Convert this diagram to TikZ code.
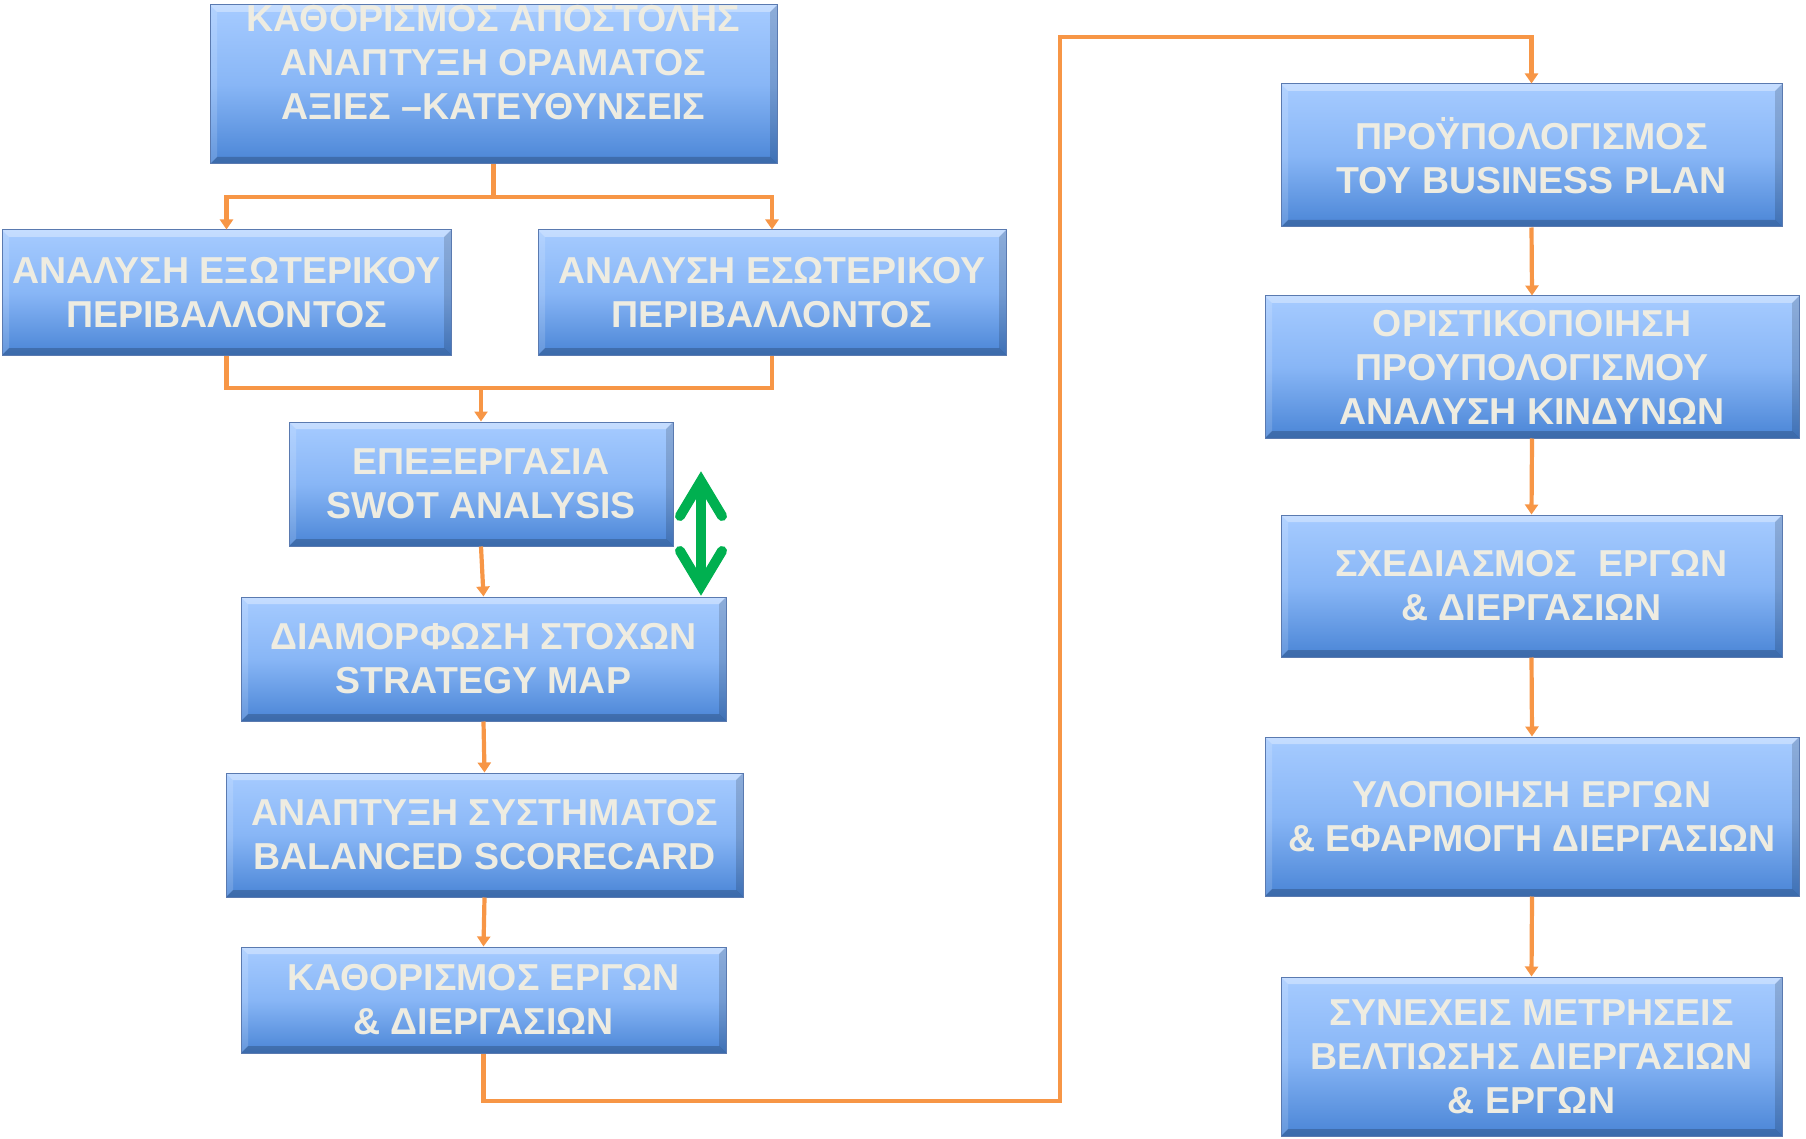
\documentclass[tikz,border=0pt]{standalone}
\usepackage{fontspec}
\setmainfont{Liberation Sans}
\usetikzlibrary{arrows.meta}
\definecolor{flowline}{HTML}{F79646}
\definecolor{boxtext}{HTML}{EEECE1}
\definecolor{boxtop}{RGB}{166,203,255}
\definecolor{boxmid}{RGB}{136,182,246}
\definecolor{boxbot}{RGB}{74,133,214}
\definecolor{boxrim}{RGB}{90,122,176}
\definecolor{linkgreen}{HTML}{00B050}
\tikzset{
  stage/.style={
    draw=boxrim, line width=1pt, inner sep=0pt, align=center,
    top color=boxtop, bottom color=boxbot, middle color=boxmid,
    text=boxtext, font=\fontsize{37.5}{44}\selectfont\bfseries,
    path picture={
      \def\pb{path picture bounding box}
      \fill[white,opacity=.35] (\pb.north west) -- (\pb.north east)
        -- ([xshift=-7pt,yshift=-7pt]\pb.north east) -- ([xshift=7pt,yshift=-7pt]\pb.north west) -- cycle;
      \fill[white,opacity=.15] (\pb.north west) -- ([xshift=7pt,yshift=-7pt]\pb.north west)
        -- ([xshift=7pt,yshift=7pt]\pb.south west) -- (\pb.south west) -- cycle;
      \fill[black,opacity=.15] (\pb.north east) -- ([xshift=-7pt,yshift=-7pt]\pb.north east)
        -- ([xshift=-7pt,yshift=7pt]\pb.south east) -- (\pb.south east) -- cycle;
      \fill[black,opacity=.2] (\pb.south west) -- ([xshift=7pt,yshift=7pt]\pb.south west)
        -- ([xshift=-7pt,yshift=7pt]\pb.south east) -- (\pb.south east) -- cycle;
    }},
  flow/.style={draw=flowline, line width=4.2pt},
  flowarrow/.style={flow, -{Triangle[width=13pt,length=10pt]}},
  twoway/.style={draw=linkgreen, line width=10pt, line join=miter, line cap=round}
}
\begin{document}
\begin{tikzpicture}[x=1pt,y=-1pt]
\useasboundingbox (0,0) rectangle (1806,1139);

% left column
\node[stage, minimum width=567pt, minimum height=159pt] (b1) at (493.5,84.5)
  {ΚΑΘΟΡΙΣΜΟΣ ΑΠΟΣΤΟΛΗΣ\\ΑΝΑΠΤΥΞΗ ΟΡΑΜΑΤΟΣ\\ΑΞΙΕΣ –ΚΑΤΕΥΘΥΝΣΕΙΣ\\\mbox{}};
\node[stage, minimum width=449pt, minimum height=125pt] (b2) at (226.5,292.5)
  {ΑΝΑΛΥΣΗ ΕΞΩΤΕΡΙΚΟΥ\\ΠΕΡΙΒΑΛΛΟΝΤΟΣ};
\node[stage, minimum width=468pt, minimum height=125pt] (b3) at (772,292.5)
  {ΑΝΑΛΥΣΗ ΕΣΩΤΕΡΙΚΟΥ\\ΠΕΡΙΒΑΛΛΟΝΤΟΣ};
\node[stage, minimum width=384pt, minimum height=124pt] (b4) at (481,484)
  {ΕΠΕΞΕΡΓΑΣΙΑ\\SWOT ANALYSIS};
\node[stage, minimum width=485pt, minimum height=124pt] (b5) at (483.5,659)
  {ΔΙΑΜΟΡΦΩΣΗ ΣΤΟΧΩΝ\\STRATEGY MAP};
\node[stage, minimum width=517pt, minimum height=124pt] (b6) at (484.5,835)
  {ΑΝΑΠΤΥΞΗ ΣΥΣΤΗΜΑΤΟΣ\\BALANCED SCORECARD};
\node[stage, minimum width=485pt, minimum height=106pt] (b7) at (483.5,1000)
  {ΚΑΘΟΡΙΣΜΟΣ ΕΡΓΩΝ\\\& ΔΙΕΡΓΑΣΙΩΝ};

% right column
\node[stage, minimum width=501pt, minimum height=143pt] (b8) at (1531.5,155.5)
  {ΠΡΟΫΠΟΛΟΓΙΣΜΟΣ\\ΤΟΥ BUSINESS PLAN};
\node[stage, minimum width=534pt, minimum height=142pt] (b9) at (1532,367)
  {ΟΡΙΣΤΙΚΟΠΟΙΗΣΗ\\ΠΡΟΥΠΟΛΟΓΙΣΜΟΥ\\ΑΝΑΛΥΣΗ ΚΙΝΔΥΝΩΝ};
\node[stage, minimum width=501pt, minimum height=142pt] (b10) at (1531.5,586)
  {ΣΧΕΔΙΑΣΜΟΣ\ \ ΕΡΓΩΝ\\\& ΔΙΕΡΓΑΣΙΩΝ};
\node[stage, minimum width=534pt, minimum height=159pt] (b11) at (1532,816.5)
  {ΥΛΟΠΟΙΗΣΗ ΕΡΓΩΝ\\\& ΕΦΑΡΜΟΓΗ ΔΙΕΡΓΑΣΙΩΝ};
\node[stage, minimum width=501pt, minimum height=159pt] (b12) at (1531.5,1056.5)
  {ΣΥΝΕΧΕΙΣ ΜΕΤΡΗΣΕΙΣ\\ΒΕΛΤΙΩΣΗΣ ΔΙΕΡΓΑΣΙΩΝ\\\& ΕΡΓΩΝ};

% junction and routing points
\coordinate (j1) at (493.5,197);
\coordinate (j2) at (481,388);
\coordinate (r1) at (1060,1101);
\coordinate (r2) at (1060,37);

% orange flow lines
\draw[flow] (b1.south) -- (j1);
\draw[flowarrow] (j1) -| (b2.north);
\draw[flowarrow] (j1) -| (b3.north);
\draw[flow] (b2.south) |- (j2) -| (b3.south);
\draw[flowarrow] (j2) -- (b4.north);
\draw[flowarrow] (b4.south) -- (b5.north);
\draw[flowarrow] (b5.south) -- (b6.north);
\draw[flowarrow] (b6.south) -- (b7.north);
\draw[flowarrow] (b7.south) |- (r1) -- (r2) -| (b8.north);
\draw[flowarrow] (b8.south) -- (b9.north);
\draw[flowarrow] (b9.south) -- (b10.north);
\draw[flowarrow] (b10.south) -- (b11.north);
\draw[flowarrow] (b11.south) -- (b12.north);

% green two-way arrow between SWOT and strategy map
% (xshift/yshift act on the page, where y points up)
\coordinate (gt) at (701,481);
\coordinate (gb) at (701,586);
\draw[twoway, line cap=butt] (gt) -- (gb);
\draw[twoway] ([xshift=-21pt,yshift=-35pt]gt) -- (gt) -- ([xshift=21pt,yshift=-35pt]gt);
\draw[twoway] ([xshift=-21pt,yshift=35pt]gb) -- (gb) -- ([xshift=21pt,yshift=35pt]gb);
\end{tikzpicture}
\end{document}
